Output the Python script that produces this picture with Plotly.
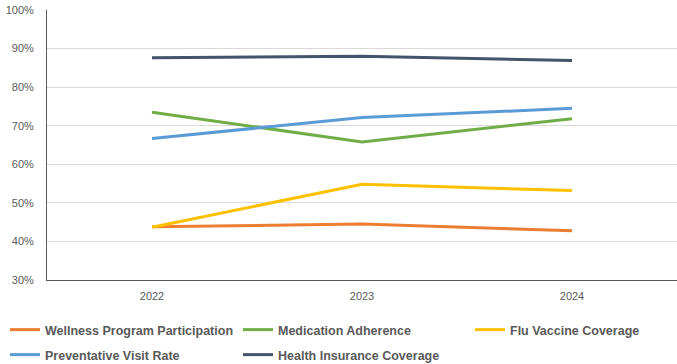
import plotly.graph_objects as go

years = ["2022", "2023", "2024"]
wellness = [0.438, 0.445, 0.428]
medication = [0.735, 0.658, 0.718]
flu = [0.437, 0.548, 0.532]
preventive = [0.667, 0.721, 0.745]
insurance = [0.876, 0.880, 0.869]

names = ["Wellness Program Participation", "Medication Adherence",
         "Flu Vaccine Coverage", "Preventative Visit Rate",
         "Health Insurance Coverage"]
values = [wellness, medication, flu, preventive, insurance]
colors = ["#ED7D31", "#70AD47", "#FFC000", "#5B9BD5", "#44546A"]
# legend slot (x px, y px) for each series
leg_pos = [(5, 330), (238, 330), (470, 330), (5, 355), (238, 355)]

fig = go.Figure()
legends = {}
for i, (name, vals, col) in enumerate(zip(names, values, colors)):
    key = "legend" if i == 0 else f"legend{i + 1}"
    fig.add_trace(go.Scatter(x=years, y=vals, name=name, mode="lines",
                             line=dict(color=col, width=3), legend=key))
    px, py = leg_pos[i]
    legends[key] = dict(orientation="h", xref="container", yref="container",
                        x=px / 677, y=1 - py / 364,
                        xanchor="left", yanchor="middle",
                        itemwidth=30, bgcolor="rgba(0,0,0,0)",
                        font=dict(family="Liberation Sans, Arial, sans-serif",
                                  size=12.5, color="#595959", weight="bold"))

FONT = "Liberation Sans, Arial, sans-serif"
fig.update_layout(
    width=677, height=364,
    margin=dict(l=47, r=0, t=10, b=84),
    paper_bgcolor="white", plot_bgcolor="white",
    font=dict(family=FONT, color="#595959", size=11),
    xaxis=dict(type="category", range=[-0.5, 2.5], showgrid=False,
               showline=True, linecolor="#595959", linewidth=1,
               ticks="", ticklabelstandoff=6,
               tickfont=dict(family=FONT, size=11, color="#595959")),
    yaxis=dict(range=[0.3, 1.0], dtick=0.1, tickformat=".0%",
               showgrid=True, gridcolor="#D9D9D9", gridwidth=1,
               showline=True, linecolor="#595959", linewidth=1,
               zeroline=False, ticks="", ticklabelstandoff=10,
               tickfont=dict(family=FONT, size=11, color="#595959")),
    showlegend=True,
    **legends,
)

fig.write_html("out.html")
